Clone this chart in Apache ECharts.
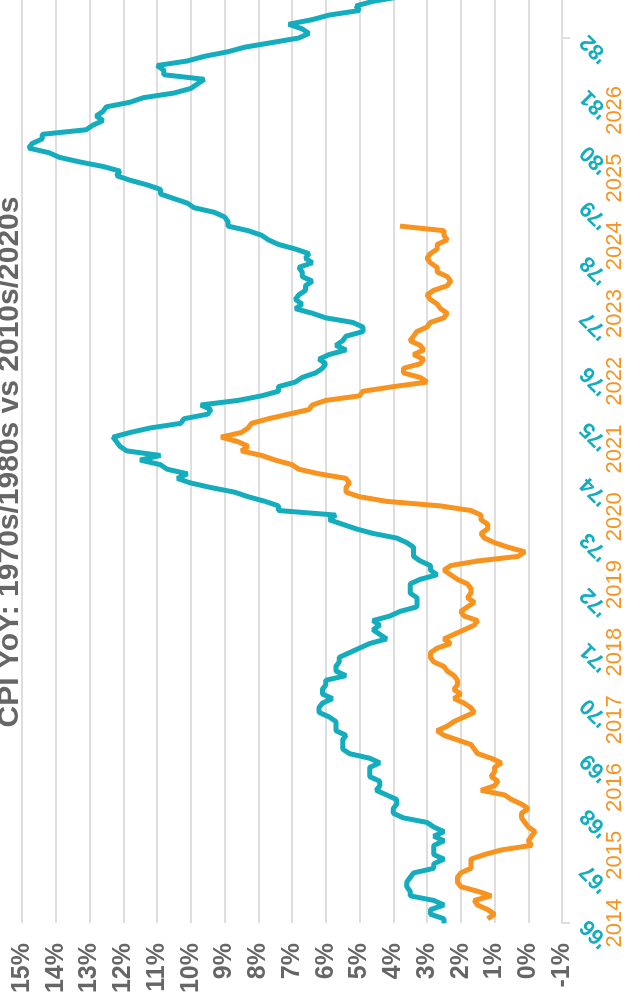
<!DOCTYPE html>
<html>
<head>
<meta charset="utf-8">
<script src="https://cdn.jsdelivr.net/npm/echarts@6/dist/echarts.min.js"></script>
<style>
html,body{margin:0;padding:0;background:#fff;overflow:hidden;width:626px;height:1003px;}
#wrap{position:absolute;left:0;top:0;width:1003px;height:626px;transform-origin:0 0;transform:translate(0,1003px) rotate(-90deg);}
#chart{width:1003px;height:626px;}
</style>
</head>
<body>
<div id="wrap"><div id="chart"></div></div>
<script>
// ---- data ----
const titleText = 'CPI YoY: 1970s/1980s vs 2010s/2020s';
const yTicks = [-1,0,1,2,3,4,5,6,7,8,9,10,11,12,13,14,15];
const tealTickYears = [1966,1967,1968,1969,1970,1971,1972,1973,1974,1975,1976,1977,1978,1979,1980,1981,1982];
const orangeTickYears = [2014,2015,2016,2017,2018,2019,2020,2021,2022,2023,2024,2025,2026];
// monthly YoY %, teal starts Feb 1966
const tealStart = [1966, 2];
const tealValues = [
 2.5,2.5,2.9,2.9,2.5,2.8,3.5,3.5,3.6,3.6,3.5,
 3.4,2.8,2.8,2.5,2.8,2.8,2.8,2.5,2.8,2.5,2.8,3.0,
 3.7,4.0,4.0,3.9,3.9,4.2,4.5,4.4,4.4,4.7,4.7,4.7,
 4.4,4.7,5.3,5.5,5.5,5.5,5.4,5.7,5.7,5.7,5.9,6.2,
 6.2,6.1,5.8,6.1,6.1,6.0,6.0,5.4,5.7,5.7,5.6,5.6,
 5.3,5.0,4.7,4.2,4.4,4.6,4.4,4.6,4.1,3.8,3.3,3.3,
 3.3,3.5,3.5,3.5,3.2,2.7,2.9,2.9,3.2,3.4,3.4,3.4,
 3.6,3.9,4.6,5.1,5.5,5.9,5.7,7.4,7.4,7.8,8.3,8.7,
 9.4,10.0,10.4,10.1,10.7,10.9,11.5,10.9,11.9,12.1,12.2,12.3,
 11.8,11.2,10.3,10.2,9.5,9.4,9.7,8.6,7.9,7.4,7.4,6.9,
 6.7,6.3,6.1,6.0,6.2,5.9,5.4,5.7,5.5,5.4,4.9,4.9,
 5.2,6.0,6.4,6.9,6.7,6.9,6.8,6.6,6.6,6.4,6.7,6.7,
 6.8,6.4,6.6,6.5,6.9,7.4,7.7,7.9,8.3,8.9,8.9,9.0,
 9.3,9.9,10.1,10.5,10.9,10.9,11.3,11.8,12.2,12.1,12.6,13.3,
 13.9,14.2,14.8,14.7,14.4,14.4,13.1,12.9,12.6,12.8,12.6,12.5,
 11.8,11.4,10.5,10.0,9.8,9.6,10.8,10.8,11.0,10.1,9.6,8.9,
 8.4,7.6,6.8,6.5,6.7,7.1,6.4,5.9,5.0,5.1,4.6,3.8
];
// monthly YoY %, orange starts Sep 2013
const orangeStart = [2013, 9];
const orangeValues = [
 1.2,1.0,1.2,1.5,
 1.6,1.1,1.5,2.0,2.1,2.1,2.0,1.7,1.7,1.7,1.3,0.8,
 -0.1,0.0,-0.1,-0.2,0.0,0.1,0.2,0.2,0.0,0.2,0.5,0.7,
 1.4,1.0,0.9,1.1,1.0,1.0,0.8,1.1,1.5,1.6,1.7,2.1,
 2.5,2.7,2.4,2.2,1.9,1.6,1.7,1.9,2.2,2.0,2.2,2.1,
 2.1,2.2,2.4,2.5,2.8,2.9,2.9,2.7,2.3,2.5,2.2,1.9,
 1.6,1.5,1.9,2.0,1.8,1.6,1.8,1.7,1.7,1.8,2.1,2.3,
 2.5,2.3,1.5,0.3,0.1,0.6,1.0,1.3,1.4,1.2,1.2,1.4,
 1.4,1.7,2.6,4.2,5.0,5.4,5.4,5.3,5.4,6.2,6.8,7.0,
 7.5,7.9,8.5,8.3,8.6,9.1,8.5,8.3,8.2,7.7,7.1,6.5,
 6.4,6.0,5.0,4.9,4.0,3.0,3.2,3.7,3.7,3.2,3.1,3.4,
 3.1,3.2,3.5,3.4,3.3,3.0,2.9,2.5,2.4,2.6,2.7,2.9,
 3.0,2.8,2.4,2.3,2.4,2.7,2.7,2.9,3.0,2.9,2.7,2.7,
 2.4,2.5,2.5,3.8
];
// ---- build ----
function monthly(start, vals){
  return vals.map((v,i)=>{const m = start[1]-1+i; return [start[0] + m/12, v];});
}
const TEAL = '#13adbd', ORANGE = '#f7931e', GRID = '#dedede', GRAY = '#666666';
const tealMin = 1966.09, tealMax = 1982.857;
const ALIGN_SHIFT = 47.5; // 2010s/2020s series aligned to the 1970s axis
const chart = echarts.init(document.getElementById('chart'));
chart.setOption({
  animation:false,
  backgroundColor:'#fff',
  grid:{left:80,right:0,top:22,bottom:64,containLabel:false},
  graphic:[{type:'text',x:541,y:-5,style:{text:titleText,fill:GRAY,font:'bold 30px "Liberation Sans", Arial, sans-serif',textAlign:'center',textVerticalAlign:'top'}}],
  xAxis:[
    {type:'value',min:tealMin,max:tealMax,show:false},
    {type:'value',min:tealMin+ALIGN_SHIFT,max:tealMax+ALIGN_SHIFT,show:false},
    {type:'value',min:1966,max:1982.69,position:'bottom',
      axisLine:{show:false,onZero:false},axisTick:{show:false},splitLine:{show:false},
      axisLabel:{customValues:tealTickYears,rotate:45,margin:22,color:TEAL,fontWeight:'bold',fontSize:22,fontFamily:'Liberation Sans',
        formatter:v=>"'"+String(Math.round(v)).slice(2)}},
    {type:'value',min:2014,max:2027.63,position:'bottom',
      axisLine:{show:false,onZero:false},axisTick:{show:false},splitLine:{show:false},
      axisLabel:{customValues:orangeTickYears,margin:42,color:ORANGE,fontSize:22,fontFamily:'Liberation Sans',
        formatter:v=>String(Math.round(v))}},
    {type:'value',min:1966,max:1982.69,position:'bottom',
      axisLine:{show:true,onZero:true,lineStyle:{color:GRID,width:2}},
      axisTick:{show:true,customValues:[1966,1982],length:8,lineStyle:{color:GRID,width:2}},
      axisLabel:{show:false},splitLine:{show:false}}
  ],
  yAxis:{type:'value',min:yTicks[0],max:yTicks[yTicks.length-1],interval:1,
    axisLine:{show:false},axisTick:{show:false},
    splitLine:{lineStyle:{color:GRID,width:2}},
    axisLabel:{margin:20,color:GRAY,fontWeight:'bold',fontSize:25,fontFamily:'Liberation Sans',formatter:'{value}%'}},
  series:[
    {type:'line',xAxisIndex:0,data:monthly(tealStart,tealValues),showSymbol:false,lineStyle:{color:TEAL,width:5},itemStyle:{color:TEAL},clip:true},
    {type:'line',xAxisIndex:1,data:monthly(orangeStart,orangeValues),showSymbol:false,lineStyle:{color:ORANGE,width:5},itemStyle:{color:ORANGE},clip:true}
  ]
});
</script>
</body>
</html>
